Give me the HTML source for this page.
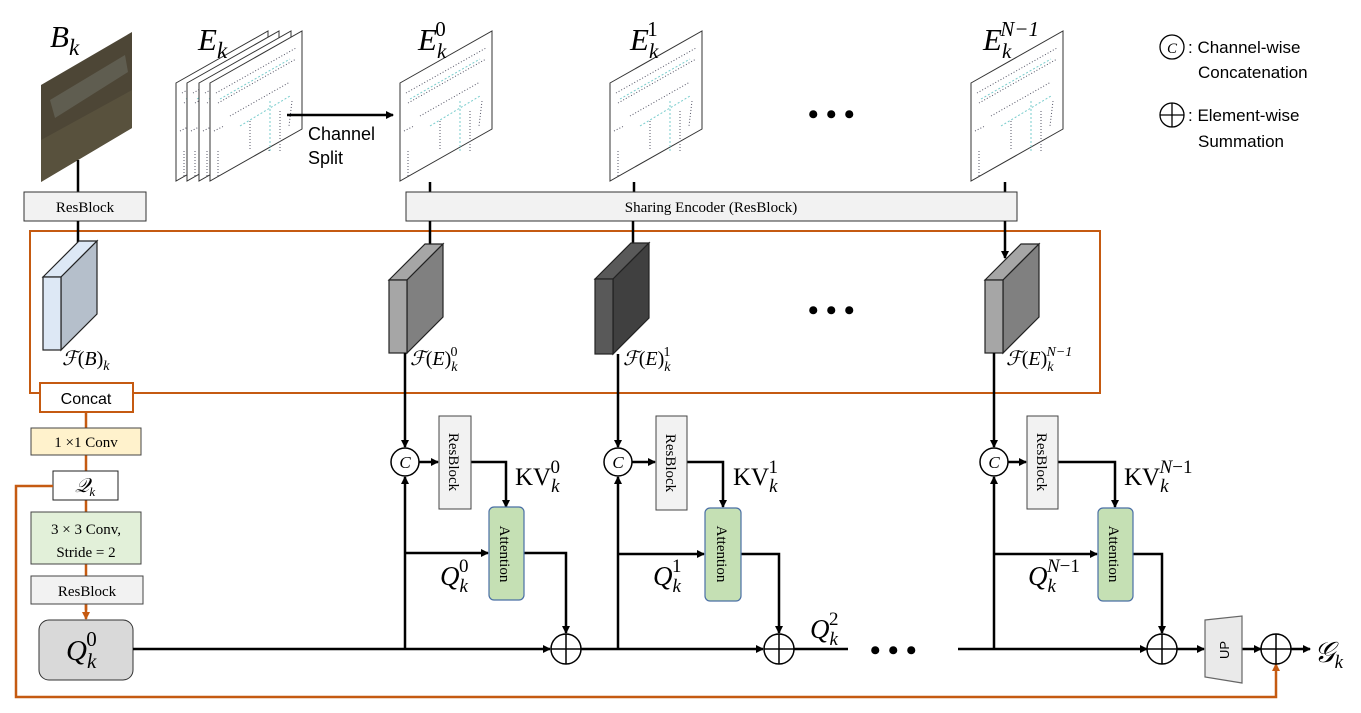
<!DOCTYPE html>
<html><head><meta charset="utf-8"><style>
html,body{margin:0;padding:0;background:#fff;}
svg{display:block;}
text{font-family:"Liberation Serif","DejaVu Serif",serif;}
.s{font-family:"Liberation Sans","DejaVu Sans",sans-serif;}
</style></head><body>
<svg width="1361" height="713" viewBox="0 0 1361 713" xmlns="http://www.w3.org/2000/svg">
<defs>
<marker id="a" markerWidth="8" markerHeight="8" refX="7" refY="4" orient="auto" markerUnits="userSpaceOnUse"><path d="M0,0 L8,4 L0,8 z" fill="#000"/></marker>
<marker id="o" markerWidth="8" markerHeight="8" refX="7" refY="4" orient="auto" markerUnits="userSpaceOnUse"><path d="M0,0 L8,4 L0,8 z" fill="#c55a11"/></marker>
<g id="sheet"><polygon points="0,52 92,0 92,98 0,150" fill="#fff" stroke="#333" stroke-width="1"/>
<path d="M6,62 l80,-45 M8,72 l78,-44 M20,85 l60,-34 M4,100 l10,-5 M8,120 l0,25 M70,80 l0,40 M82,70 l-3,25 M40,90 l0,30" stroke="#556" stroke-width="1" stroke-dasharray="1,2"/>
<path d="M10,68 l70,-40 M30,95 l50,-30 M60,70 l0,50" stroke="#7cc" stroke-width="1" stroke-dasharray="2,2"/></g>
</defs>

<!-- B_k image -->
<polygon points="41,85 132,32 132,128 41,182" fill="#4d4636"/>
<polygon points="50,100 125,55 128,72 55,118" fill="#6d6d62" opacity="0.6"/>
<polygon points="41,140 132,90 132,128 41,182" fill="#5c5540" opacity="0.7"/>
<text x="50" y="47" font-size="31" font-style="italic">B<tspan font-size="23" dy="8">k</tspan></text>

<!-- E_k stack -->
<use href="#sheet" x="176" y="31"/>
<use href="#sheet" x="187" y="31"/>
<use href="#sheet" x="199" y="31"/>
<use href="#sheet" x="210" y="31"/>
<text x="198" y="50" font-size="31" font-style="italic">E<tspan font-size="23" dy="8">k</tspan></text>

<line x1="287" y1="115" x2="393" y2="115" stroke="#000" stroke-width="2.5" marker-end="url(#a)"/>
<text class="s" x="308" y="140" font-size="18">Channel</text>
<text class="s" x="308" y="164" font-size="18">Split</text>

<use href="#sheet" x="400" y="31"/>
<use href="#sheet" x="610" y="31"/>
<use href="#sheet" x="971" y="31"/>
<text x="418" y="50" font-size="31" font-style="italic">E<tspan font-size="21" dy="8">k</tspan><tspan font-size="21" dx="-11" dy="-22" font-style="normal">0</tspan></text>
<text x="630" y="50" font-size="31" font-style="italic">E<tspan font-size="21" dy="8">k</tspan><tspan font-size="21" dx="-11" dy="-22" font-style="normal">1</tspan></text>
<text x="983" y="50" font-size="31" font-style="italic">E<tspan font-size="21" dy="8">k</tspan><tspan font-size="21" dx="-11" dy="-22">N−1</tspan></text>
<text x="808" y="124" font-size="30" font-weight="bold">• • •</text>

<!-- top connectors -->
<line x1="78" y1="160" x2="78" y2="192" stroke="#000" stroke-width="2.5"/>
<line x1="430" y1="182" x2="430" y2="192" stroke="#000" stroke-width="2.5"/>
<line x1="634" y1="182" x2="634" y2="192" stroke="#000" stroke-width="2.5"/>
<line x1="1005" y1="182" x2="1005" y2="192" stroke="#000" stroke-width="2.5"/>
<rect x="24" y="192" width="122" height="29" fill="#f2f2f2" stroke="#333"/>
<text x="85" y="212" font-size="15" text-anchor="middle">ResBlock</text>
<rect x="406" y="192" width="611" height="29" fill="#f2f2f2" stroke="#333"/>
<text x="711" y="212" font-size="15" text-anchor="middle">Sharing Encoder (ResBlock)</text>

<!-- orange box -->
<rect x="30" y="231" width="1070" height="162" fill="none" stroke="#c55a11" stroke-width="2"/>
<line x1="78" y1="221" x2="78" y2="256" stroke="#000" stroke-width="2.5" marker-end="url(#a)"/>
<line x1="430" y1="221" x2="430" y2="258" stroke="#000" stroke-width="2.5" marker-end="url(#a)"/>
<line x1="633" y1="221" x2="633" y2="256" stroke="#000" stroke-width="2.5" marker-end="url(#a)"/>
<line x1="1005" y1="221" x2="1005" y2="258" stroke="#000" stroke-width="2.5" marker-end="url(#a)"/>

<!-- cubes -->
<g stroke="#222" stroke-width="1.2">
<polygon points="43,277 79,241 97,241 61,277" fill="#dde8f5"/>
<polygon points="61,277 97,241 97,314 61,350" fill="#b5bfcb"/>
<rect x="43" y="277" width="18" height="73" fill="#dde8f5"/>
<polygon points="389,280 425,244 443,244 407,280" fill="#a6a6a6"/>
<polygon points="407,280 443,244 443,317 407,353" fill="#808080"/>
<rect x="389" y="280" width="18" height="73" fill="#a6a6a6"/>
<polygon points="595,279 631,243 649,243 613,279" fill="#595959"/>
<polygon points="613,279 649,243 649,318 613,354" fill="#404040"/>
<rect x="595" y="279" width="18" height="75" fill="#595959"/>
<polygon points="985,280 1021,244 1039,244 1003,280" fill="#a6a6a6"/>
<polygon points="1003,280 1039,244 1039,317 1003,353" fill="#808080"/>
<rect x="985" y="280" width="18" height="73" fill="#a6a6a6"/>
</g>
<text x="62" y="365" font-size="20" font-style="italic">ℱ<tspan font-style="normal">(</tspan>B<tspan font-style="normal">)</tspan><tspan font-size="14" dy="5">k</tspan></text>
<text x="410" y="365" font-size="20" font-style="italic">ℱ<tspan font-style="normal">(</tspan>E<tspan font-style="normal">)</tspan><tspan font-size="14" dy="6">k</tspan><tspan font-size="14" dx="-7" dy="-15" font-style="normal">0</tspan></text>
<text x="623" y="365" font-size="20" font-style="italic">ℱ<tspan font-style="normal">(</tspan>E<tspan font-style="normal">)</tspan><tspan font-size="14" dy="6">k</tspan><tspan font-size="14" dx="-7" dy="-15" font-style="normal">1</tspan></text>
<text x="1006" y="365" font-size="20" font-style="italic">ℱ<tspan font-style="normal">(</tspan>E<tspan font-style="normal">)</tspan><tspan font-size="14" dy="6">k</tspan><tspan font-size="14" dx="-7" dy="-15">N−1</tspan></text>
<text x="808" y="320" font-size="30" font-weight="bold">• • •</text>

<!-- left column -->
<line x1="86" y1="412" x2="86" y2="610" stroke="#c55a11" stroke-width="2.5"/>
<line x1="86" y1="604" x2="86" y2="619" stroke="#c55a11" stroke-width="2.5" marker-end="url(#o)"/>
<rect x="40" y="383" width="93" height="29" fill="#fff" stroke="#c55a11" stroke-width="2"/>
<text class="s" x="86" y="404" font-size="16" text-anchor="middle">Concat</text>
<rect x="31" y="428" width="110" height="27" fill="#fff2cc" stroke="#444"/>
<text x="86" y="447" font-size="15" text-anchor="middle">1 ×1 Conv</text>
<rect x="53" y="471" width="65" height="29" fill="#fff" stroke="#222"/>
<text x="75" y="492" font-size="20" font-style="italic">𝒬<tspan font-size="13" dy="4">k</tspan></text>
<rect x="31" y="512" width="110" height="52" fill="#e2f0d9" stroke="#444"/>
<text x="86" y="534" font-size="15" text-anchor="middle">3 × 3 Conv,</text>
<text x="86" y="557" font-size="15" text-anchor="middle">Stride = 2</text>
<rect x="31" y="576" width="112" height="28" fill="#f2f2f2" stroke="#444"/>
<text x="87" y="596" font-size="15" text-anchor="middle">ResBlock</text>
<rect x="39" y="620" width="94" height="60" rx="10" fill="#d9d9d9" stroke="#333"/>
<text x="66" y="660" font-size="29" font-style="italic">Q<tspan font-size="21" dy="8">k</tspan><tspan font-size="21" dx="-10" dy="-22" font-style="normal">0</tspan></text>

<!-- orange feedback -->
<polyline points="53,486 16,486 16,697 1276,697 1276,664" fill="none" stroke="#c55a11" stroke-width="2.5" marker-end="url(#o)"/>

<!-- main line -->
<line x1="133" y1="649" x2="550" y2="649" stroke="#000" stroke-width="2.5" marker-end="url(#a)"/>
<line x1="581" y1="649" x2="763" y2="649" stroke="#000" stroke-width="2.5" marker-end="url(#a)"/>
<line x1="794" y1="649" x2="848" y2="649" stroke="#000" stroke-width="2.5"/>
<text x="870" y="660" font-size="30" font-weight="bold">• • •</text>
<line x1="958" y1="649" x2="1147" y2="649" stroke="#000" stroke-width="2.5" marker-end="url(#a)"/>
<text x="810" y="638" font-size="27" font-style="italic">Q<tspan font-size="19" dy="7">k</tspan><tspan font-size="19" dx="-9" dy="-20" font-style="normal">2</tspan></text>

<g stroke="#000" stroke-width="2.5" fill="none">
<line x1="405" y1="353" x2="405" y2="447" marker-end="url(#a)"/>
<line x1="405" y1="649" x2="405" y2="477" marker-end="url(#a)"/>
<line x1="419" y1="462" x2="438" y2="462" marker-end="url(#a)"/>
<polyline points="471,462 506,462 506,507" marker-end="url(#a)"/>
<line x1="405" y1="553" x2="488" y2="553" marker-end="url(#a)"/>
<polyline points="524,553 566,553 566,633" marker-end="url(#a)"/>

<line x1="618" y1="354" x2="618" y2="447" marker-end="url(#a)"/>
<line x1="618" y1="649" x2="618" y2="477" marker-end="url(#a)"/>
<line x1="632" y1="462" x2="655" y2="462" marker-end="url(#a)"/>
<polyline points="687,462 723,462 723,507" marker-end="url(#a)"/>
<line x1="618" y1="554" x2="704" y2="554" marker-end="url(#a)"/>
<polyline points="741,554 779,554 779,633" marker-end="url(#a)"/>

<line x1="994" y1="353" x2="994" y2="447" marker-end="url(#a)"/>
<line x1="994" y1="649" x2="994" y2="477" marker-end="url(#a)"/>
<line x1="1008" y1="462" x2="1026" y2="462" marker-end="url(#a)"/>
<polyline points="1058,462 1115,462 1115,507" marker-end="url(#a)"/>
<line x1="994" y1="554" x2="1097" y2="554" marker-end="url(#a)"/>
<polyline points="1133,554 1162,554 1162,633" marker-end="url(#a)"/>

<line x1="1177" y1="649" x2="1204" y2="649" marker-end="url(#a)"/>
<line x1="1242" y1="649" x2="1261" y2="649" marker-end="url(#a)"/>
<line x1="1291" y1="649" x2="1310" y2="649" marker-end="url(#a)"/>
</g>

<g fill="#fff" stroke="#000" stroke-width="1.5">
<circle cx="405" cy="462" r="14"/><circle cx="618" cy="462" r="14"/><circle cx="994" cy="462" r="14"/>
</g>
<g font-size="17" font-style="italic" text-anchor="middle">
<text x="405" y="468">C</text><text x="618" y="468">C</text><text x="994" y="468">C</text>
</g>
<g fill="#fff" stroke="#000" stroke-width="1.5">
<circle cx="566" cy="649" r="15"/><path d="M551,649h30M566,634v30"/>
<circle cx="779" cy="649" r="15"/><path d="M764,649h30M779,634v30"/>
<circle cx="1162" cy="649" r="15"/><path d="M1147,649h30M1162,634v30"/>
<circle cx="1276" cy="649" r="15"/><path d="M1261,649h30M1276,634v30"/>
</g>

<g fill="#f2f2f2" stroke="#444">
<rect x="439" y="416" width="32" height="93"/>
<rect x="656" y="416" width="31" height="94"/>
<rect x="1027" y="416" width="31" height="93"/>
</g>
<g font-size="15">
<text transform="translate(449,462) rotate(90)" text-anchor="middle">ResBlock</text>
<text transform="translate(666,463) rotate(90)" text-anchor="middle">ResBlock</text>
<text transform="translate(1037,462) rotate(90)" text-anchor="middle">ResBlock</text>
</g>
<g fill="#c5e0b4" stroke="#4a6fa5" stroke-width="1.2">
<rect x="489" y="507" width="35" height="93" rx="5"/>
<rect x="705" y="508" width="36" height="93" rx="5"/>
<rect x="1098" y="508" width="35" height="93" rx="5"/>
</g>
<g font-size="15">
<text transform="translate(500,554) rotate(90)" text-anchor="middle">Attention</text>
<text transform="translate(717,554) rotate(90)" text-anchor="middle">Attention</text>
<text transform="translate(1109,554) rotate(90)" text-anchor="middle">Attention</text>
</g>

<text x="515" y="485" font-size="25">KV<tspan font-size="19" font-style="italic" dy="7">k</tspan><tspan font-size="19" dx="-9" dy="-19">0</tspan></text>
<text x="733" y="485" font-size="25">KV<tspan font-size="19" font-style="italic" dy="7">k</tspan><tspan font-size="19" dx="-9" dy="-19">1</tspan></text>
<text x="1124" y="485" font-size="25">KV<tspan font-size="19" font-style="italic" dy="7">k</tspan><tspan font-size="19" font-style="italic" dx="-9" dy="-19">N</tspan><tspan font-size="19">−1</tspan></text>
<text x="440" y="585" font-size="27" font-style="italic">Q<tspan font-size="19" dy="7">k</tspan><tspan font-size="19" dx="-9" dy="-20" font-style="normal">0</tspan></text>
<text x="653" y="585" font-size="27" font-style="italic">Q<tspan font-size="19" dy="7">k</tspan><tspan font-size="19" dx="-9" dy="-20" font-style="normal">1</tspan></text>
<text x="1028" y="585" font-size="27" font-style="italic">Q<tspan font-size="19" dy="7">k</tspan><tspan font-size="19" dx="-9" dy="-20">N<tspan font-style="normal">−1</tspan></tspan></text>

<polygon points="1205,620 1242,616 1242,683 1205,677" fill="#eaeaea" stroke="#666" stroke-width="1.2"/>
<text class="s" transform="translate(1229,650) rotate(-90)" font-size="13" text-anchor="middle">UP</text>
<text x="1314" y="662" font-size="29" font-style="italic">𝒢<tspan font-size="19" dy="6">k</tspan></text>

<circle cx="1172" cy="47" r="12" fill="#fff" stroke="#000" stroke-width="1.3"/>
<text x="1172" y="53" font-size="15" font-style="italic" text-anchor="middle">C</text>
<text class="s" x="1188" y="53" font-size="17">: Channel-wise</text>
<text class="s" x="1198" y="78" font-size="17">Concatenation</text>
<circle cx="1172" cy="115" r="12" fill="#fff" stroke="#000" stroke-width="1.3"/>
<path d="M1160,115h24M1172,103v24" stroke="#000" stroke-width="1.3"/>
<text class="s" x="1188" y="121" font-size="17">: Element-wise</text>
<text class="s" x="1198" y="147" font-size="17">Summation</text>
</svg>
</body></html>
